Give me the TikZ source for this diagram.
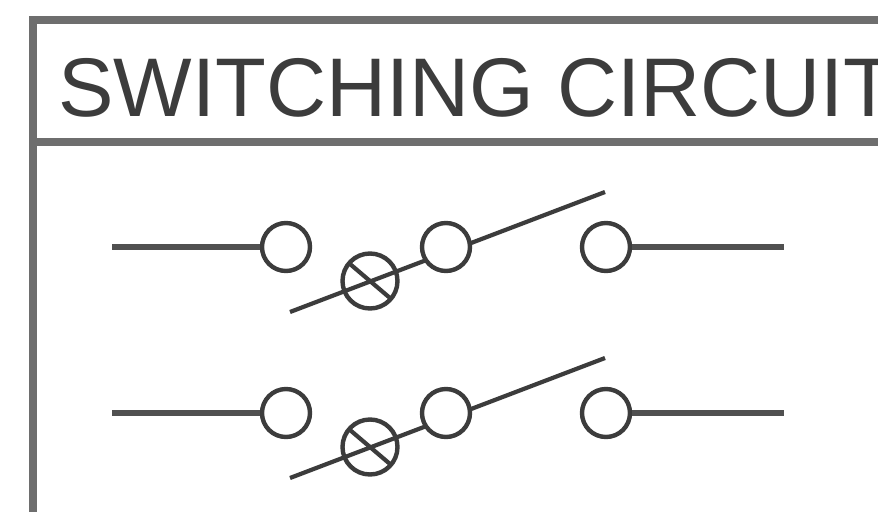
\documentclass[tikz,border=0pt]{standalone}
\usepackage{fontspec}
\setmainfont{Liberation Sans}
\definecolor{frame}{HTML}{6E6E6E}
\definecolor{wire}{HTML}{3C3C3C}
\definecolor{lead}{HTML}{505050}
\tikzset{
  x=0.75pt,y=-0.75pt,
  border/.style={draw=frame,line width=8pt*0.75},
  wireline/.style={draw=wire,line width=4.2pt*0.75},
  leadline/.style={draw=lead,line width=5.4pt*0.75},
  contact/.style={circle,draw=wire,fill=white,line width=4.4pt*0.75,minimum size=48pt*0.75,inner sep=0pt},
  lamp/.style={circle,draw=wire,line width=4.4pt*0.75,minimum size=55pt*0.75,inner sep=0pt},
  title/.style={anchor=west,inner sep=0pt,text=wire,font=\fontsize{62.4pt}{63pt}\selectfont}
}
\begin{document}
\begin{tikzpicture}
\useasboundingbox (0,0) rectangle (878,511);
\fill[white] (0,0) rectangle (878,511);
\begin{scope}
\clip (0,0) rectangle (878,511);
\draw[border] (900,20) -- (33,20) -- (33,530);
\draw[border] (33,142) -- (900,142);
\node[title] (t) at (58,88) {SWITCHING CIRCUIT};
\foreach \n/\y in {a/247,b/413}{
  \coordinate (\n L) at (112,\y);
  \coordinate (\n R) at (784,\y);
  \coordinate (\n S) at (290,\y+65);
  \coordinate (\n E) at (605,\y-55);
  \coordinate (\n CA) at (350,\y+17);
  \coordinate (\n CB) at (390,\y+51);
  \draw[wireline] (\n S) -- (\n E);
  \node[contact] (\n1) at (286,\y) {};
  \node[contact] (\n2) at (446,\y) {};
  \node[contact] (\n3) at (606,\y) {};
  \node[lamp] (\n X) at (370,\y+34) {};
  \draw[leadline] (\n L) -- (\n1);
  \draw[leadline] (\n3) -- (\n R);
  \draw[wireline] (\n CA) -- (\n CB);
}
\end{scope}
\end{tikzpicture}
\end{document}
